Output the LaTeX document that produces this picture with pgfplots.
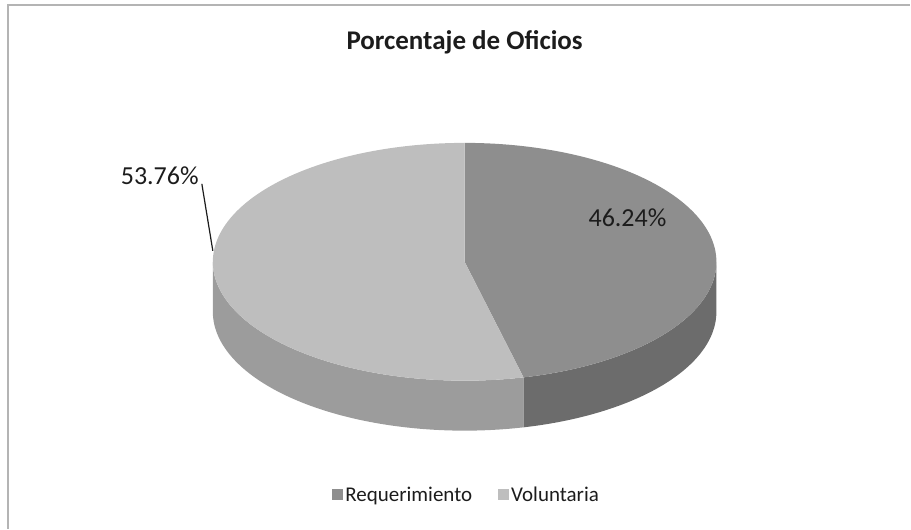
\documentclass[border=0pt]{standalone}
\usepackage{pgfplots}
\pgfplotsset{compat=1.18}
\usepgfplotslibrary{fillbetween}
\usepackage{fontspec}
\setmainfont{Carlito}
\definecolor{reqtop}{HTML}{8E8E8E}
\definecolor{reqside}{HTML}{6C6C6C}
\definecolor{voltop}{HTML}{BEBEBE}
\definecolor{volside}{HTML}{9C9C9C}
\definecolor{txt}{HTML}{1C1C1C}
\definecolor{frame}{HTML}{B4B4B4}
% data (percent)
\def\pReq{46.24}
\def\pVol{53.76}
% geometry of the 3D pie (pixel units, y downwards)
\def\cx{465}\def\cy{262}\def\rx{252}\def\ry{119}\def\dd{50}
\pgfmathsetmacro\tA{90-3.6*\pReq}
\pgfmathsetmacro\tB{\tA+360}
\begin{document}
\begin{tikzpicture}
\begin{axis}[
  scale only axis, width=911pt, height=529pt,
  xmin=0, xmax=911, ymin=0, ymax=529, y dir=reverse,
  hide axis, clip=false,
  legend style={at={(axis cs:467,495)}, anchor=center, draw=none, fill=none,
    legend columns=2, font=\fontsize{21}{24}\selectfont, text=txt,
    nodes={inner sep=2pt},
    /tikz/every even column/.append style={column sep=24pt}},
  legend image code/.code={\fill[#1, draw=none] (0pt,-5.5pt) rectangle (11pt,5.5pt);},
]
\path (axis cs:0,0) rectangle (axis cs:911,529);
\draw[frame, line width=1.5pt] (axis cs:8,529) -- (axis cs:8,5) -- (axis cs:911,5);

% sides
\addplot[name path=vu, draw=none, domain=180:\tB, samples=90, forget plot] ({\cx+\rx*cos(x)}, {\cy-\ry*sin(x)});
\addplot[name path=vl, draw=none, domain=180:\tB, samples=90, forget plot] ({\cx+\rx*cos(x)}, {\cy-\ry*sin(x)+\dd});
\addplot[fill=volside, draw=none, forget plot] fill between[of=vu and vl];
\addplot[name path=ru, draw=none, domain=\tA:0, samples=90, forget plot] ({\cx+\rx*cos(x)}, {\cy-\ry*sin(x)});
\addplot[name path=rl, draw=none, domain=\tA:0, samples=90, forget plot] ({\cx+\rx*cos(x)}, {\cy-\ry*sin(x)+\dd});
\addplot[fill=reqside, draw=none, forget plot] fill between[of=ru and rl];

% top faces
\addplot[fill=reqtop, draw=none, domain=\tA:90, samples=120, forget plot] ({\cx+\rx*cos(x)}, {\cy-\ry*sin(x)}) -- (axis cs:\cx,\cy) -- cycle;
\addplot[fill=voltop, draw=none, domain=90:\tB, samples=120, forget plot] ({\cx+\rx*cos(x)}, {\cy-\ry*sin(x)}) -- (axis cs:\cx,\cy) -- cycle;

\addlegendimage{fill=reqtop}
\addlegendentry{Requerimiento}
\addlegendimage{fill=voltop}
\addlegendentry{Voluntaria}

% labels
\node[text=txt, font=\fontsize{26}{30}\selectfont] at (axis cs:628,218) {46.24\%};
\node[text=txt, font=\fontsize{26}{30}\selectfont, anchor=east, inner sep=0pt] at (axis cs:199,176) {53.76\%};
\draw[txt, line width=1.2pt] (axis cs:202,184) -- (axis cs:213,251);

% title
\node[text=txt, font=\bfseries\fontsize{27}{32}\selectfont, anchor=base] at (axis cs:465,50) {Porcentaje de Oficios};
\end{axis}
\end{tikzpicture}
\end{document}
